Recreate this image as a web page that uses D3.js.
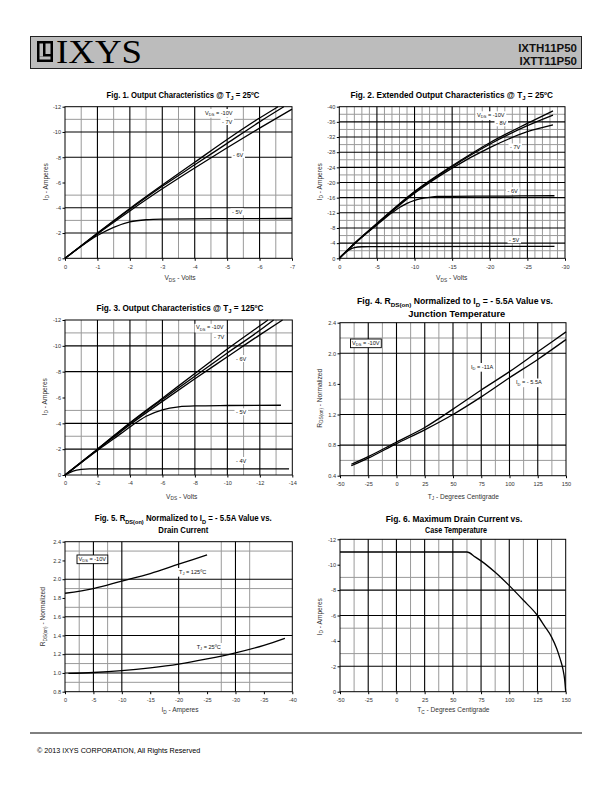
<!DOCTYPE html>
<html><head><meta charset="utf-8">
<script src="https://cdn.jsdelivr.net/npm/d3@7"></script>
<style>body{margin:0;background:#fff} svg{display:block} text{font-family:"Liberation Sans",Arial,sans-serif}</style>
</head><body><svg id="c" width="612" height="792"></svg>
<script>
// ---------------- DATA ----------------
// Fig 1: Output characteristics @ 25C  [VDS, ID]
const fig1XTicks = [0,-1,-2,-3,-4,-5,-6,-7];
const fig1YTicks = [0,-2,-4,-6,-8,-10,-12];
const fig1_10V = [[0,0],[-1,-2.0],[-2,-3.95],[-3,-5.8],[-4,-7.6],[-5,-9.4],[-6,-11.1],[-6.57,-12]];
const fig1_7V  = [[0,0],[-1,-1.97],[-2,-3.88],[-3,-5.7],[-4,-7.4],[-5,-9.1],[-6,-10.8],[-6.75,-12]];
const fig1_6V  = [[0,0],[-1,-1.93],[-2,-3.75],[-3,-5.5],[-4,-7.15],[-5,-8.75],[-6,-10.3],[-7,-11.8]];
const fig1_5V  = [[0,0],[-0.5,-0.95],[-1,-1.8],[-1.5,-2.45],[-2,-2.88],[-2.5,-3.05],[-3,-3.1],[-4,-3.12],[-5,-3.14],[-7,-3.15]];
// Fig 2: Extended output characteristics @ 25C
const fig2XTicks = [0,-5,-10,-15,-20,-25,-30];
const fig2YTicks = [0,-4,-8,-12,-16,-20,-24,-28,-32,-36,-40];
const fig2_10V = [[0,0],[-2,-3.9],[-5,-9.2],[-10,-17.6],[-15,-24.4],[-20,-30.5],[-25,-35.6],[-28.4,-38.9]];
const fig2_8V  = [[0,0],[-2,-3.9],[-5,-9.1],[-10,-17.5],[-15,-24.2],[-20,-30.1],[-25,-35.0],[-28.4,-37.8]];
const fig2_7V  = [[0,0],[-2,-3.85],[-5,-9.0],[-10,-17.2],[-15,-23.8],[-20,-29.2],[-25,-33.4],[-28.4,-35.2]];
const fig2_6V  = [[0,0],[-2,-3.8],[-5,-8.8],[-7,-12.0],[-8,-13.4],[-9,-14.5],[-10,-15.3],[-11,-15.8],[-12,-16.1],[-13,-16.3],[-15,-16.35],[-20,-16.4],[-28.6,-16.5]];
const fig2_5V  = [[0,0],[-0.5,-1.0],[-1,-1.8],[-1.5,-2.4],[-2,-2.8],[-3,-3.05],[-4,-3.1],[-28.6,-3.15]];
// Fig 3: Output characteristics @ 125C
const fig3XTicks = [0,-2,-4,-6,-8,-10,-12,-14];
const fig3YTicks = [0,-2,-4,-6,-8,-10,-12];
const fig3_10V = [[0,0],[-2,-2.0],[-4,-4.05],[-6,-5.95],[-8,-7.85],[-10,-9.75],[-12,-11.55],[-12.5,-12]];
const fig3_7V  = [[0,0],[-2,-2.0],[-4,-4.0],[-6,-5.85],[-8,-7.65],[-10,-9.45],[-12,-11.2],[-12.85,-12]];
const fig3_6V  = [[0,0],[-2,-1.95],[-4,-3.9],[-6,-5.7],[-8,-7.45],[-10,-9.15],[-12,-10.85],[-13.4,-12]];
const fig3_5V  = [[0,0],[-1,-0.95],[-2,-1.9],[-3,-2.8],[-4,-3.72],[-5,-4.55],[-6,-5.05],[-7,-5.28],[-8,-5.35],[-10,-5.38],[-13.3,-5.4]];
const fig3_4V  = [[0,0],[-0.5,-0.3],[-1,-0.43],[-1.5,-0.47],[-5,-0.48],[-13.8,-0.48]];
// Fig 4: RDS(on) vs junction temperature
const fig4XTicks = [-50,-25,0,25,50,75,100,125,150];
const fig4YTicks = [0.4,0.8,1.2,1.6,2.0,2.4];
const fig4_11A  = [[-40,0.55],[-25,0.65],[0,0.84],[25,1.03],[50,1.27],[75,1.52],[100,1.76],[125,2.02],[150,2.28]];
const fig4_55A  = [[-40,0.53],[-25,0.63],[0,0.82],[25,1.0],[50,1.2],[75,1.43],[100,1.68],[125,1.92],[150,2.18]];
// Fig 5: RDS(on) vs drain current
const fig5XTicks = [0,-5,-10,-15,-20,-25,-30,-35,-40];
const fig5YTicks = [0.8,1.0,1.2,1.4,1.6,1.8,2.0,2.2,2.4];
const fig5_125C = [[0,1.85],[-5,1.90],[-10,1.98],[-15,2.06],[-20,2.16],[-25,2.26]];
const fig5_25C  = [[-0.6,0.995],[-5,1.005],[-10,1.025],[-15,1.055],[-20,1.095],[-25,1.15],[-30,1.215],[-35,1.295],[-38.7,1.37]];
// Fig 6: Max drain current vs case temperature
const fig6XTicks = [-50,-25,0,25,50,75,100,125,150];
const fig6YTicks = [0,-2,-4,-6,-8,-10,-12];
const fig6_ID = [[-50,-11],[62.5,-11],[70,-10.6],[75,-10.3],[87.5,-9.4],[100,-8.35],[112.5,-7.2],[125,-6.0],[131,-5.2],[137.5,-4.3],[142,-3.4],[145,-2.6],[147.5,-1.8],[149,-1.0],[150,0]];

// ---------------- DRAWING ----------------
const svg = d3.select('#c');
const FONT = '"Liberation Sans",Arial,sans-serif';

function rich(t, parts, fs){
  let shifted=false;
  parts.forEach(p=>{
    const sub = typeof p !== 'string';
    const s = t.append('tspan').text(sub? p.s : p);
    if(sub){ s.attr('font-size', fs*0.72).attr('dy', fs*0.3); shifted=true; }
    else if(shifted){ s.attr('dy', -fs*0.3); shifted=false; }
  });
}
function fitText(parent, cx, yb, parts, fs, targetW, weight){
  const t = parent.append('text').attr('text-anchor','middle').attr('font-size',fs)
    .attr('font-weight',weight||'bold').attr('fill','#000');
  rich(t, parts, fs);
  const w = t.node().getComputedTextLength();
  const s = targetW ? targetW/w : 1;
  t.attr('transform',`translate(${cx},${yb}) scale(${s},1)`);
  return t;
}
function label(parent, x, y, parts, opt){
  opt = opt||{};
  const fs = 5.6;
  const t = parent.append('text').attr('x',x).attr('y',y).attr('font-size',fs).attr('fill','#111');
  rich(t, parts, fs);
  const b = t.node().getBBox();
  parent.insert('rect', () => t.node())
    .attr('x', b.x-1.5).attr('y', b.y-0.5).attr('width', b.width+3).attr('height', b.height+1)
    .attr('fill','#fff').attr('stroke', opt.border? '#000':'none').attr('stroke-width',0.9);
}
const sub = s => ({s});

function drawChart(c){
  const g = svg.append('g');
  const x = d3.scaleLinear().domain(c.xDomain).range([c.left,c.right]);
  const y = d3.scaleLinear().domain(c.yDomain).range([c.bottom,c.top]);
  const vline = (arr,col,w)=> g.append('g').selectAll('line').data(arr).join('line')
     .attr('x1',d=>x(d)).attr('x2',d=>x(d)).attr('y1',c.top).attr('y2',c.bottom)
     .attr('stroke',col).attr('stroke-width',w);
  const hline = (arr,col,w)=> g.append('g').selectAll('line').data(arr).join('line')
     .attr('y1',d=>y(d)).attr('y2',d=>y(d)).attr('x1',c.left).attr('x2',c.right)
     .attr('stroke',col).attr('stroke-width',w);
  vline(c.vGray,'#9a9a9a',1); hline(c.hGray,'#9a9a9a',1);
  vline(c.vBlack,'#000',1.1); hline(c.hBlack,'#000',1.1);
  g.append('rect').attr('x',c.left).attr('y',c.top).attr('width',c.right-c.left).attr('height',c.bottom-c.top)
    .attr('fill','none').attr('stroke','#000').attr('stroke-width',1);
  const ay = g.append('g').attr('transform',`translate(${c.left},0)`)
    .call(d3.axisLeft(y).tickValues(c.yTicks).tickFormat(c.yFmt).tickSize(2.5).tickPadding(1.5));
  const ax = g.append('g').attr('transform',`translate(0,${c.bottom})`)
    .call(d3.axisBottom(x).tickValues(c.xTicks).tickFormat(c.xFmt).tickSize(2.5).tickPadding(4));
  [ax,ay].forEach(a=>{ a.select('.domain').remove(); a.attr('font-family',FONT).attr('font-size',5.6);
     a.selectAll('text').attr('fill','#333'); a.selectAll('line').attr('stroke','#000'); });
  const line = d3.line().x(d=>x(d[0])).y(d=>y(d[1])).curve(d3.curveMonotoneX);
  g.append('g').selectAll('path').data(c.curves).join('path').attr('d',d=>line(d))
    .attr('fill','none').attr('stroke','#000').attr('stroke-width',1.3);
  c.labels.forEach(l=>label(g,l.x,l.y,l.parts,l));
  c.title.forEach(tl=>fitText(g, tl.cx, tl.y, tl.parts, 8.6, tl.w, 'bold'));
  const xt = g.append('text').attr('x',c.xTitle.cx).attr('y',c.xTitle.y).attr('text-anchor','middle')
    .attr('font-size',6.6).attr('fill','#333');
  rich(xt, c.xTitle.parts, 6.6);
  const yt = g.append('text').attr('transform',`translate(${c.yTitle.x},${c.yTitle.cy}) rotate(-90)`)
    .attr('text-anchor','middle').attr('font-size',6.6).attr('fill','#333');
  rich(yt, c.yTitle.parts, 6.6);
}
const fInt = d=>String(d);
const f1 = d=>d.toFixed(1);
const range = (a,b,s)=>d3.range(a,b+s/2,s);
const ID_T = ['I',sub('D'),' - Amperes'];
const VDS_T = ['V',sub('DS'),' - Volts'];

// Fig 1
drawChart({left:65,right:292,top:106.7,bottom:258.3, xDomain:[0,-7], yDomain:[0,-12],
  xTicks:fig1XTicks, yTicks:fig1YTicks, xFmt:fInt, yFmt:fInt,
  vBlack:[-1,-2,-3,-4,-5,-6], vGray:[-0.5,-1.5,-2.5,-3.5,-4.5,-5.5,-6.5],
  hBlack:[-10,-8,-4,-2], hGray:[-11,-5,-3],
  curves:[fig1_10V,fig1_7V,fig1_6V,fig1_5V],
  labels:[{x:205,y:114.5,parts:['V',sub('DS'),' = -10V']},{x:222,y:123.5,parts:['- 7V']},
          {x:233,y:156.7,parts:['- 6V']},{x:232,y:213.8,parts:['- 5V']}],
  title:[{cx:183,y:97.7,w:153,parts:['Fig. 1. Output Characteristics @ T',sub('J'),' = 25ºC']}],
  xTitle:{cx:180,y:280,parts:VDS_T}, yTitle:{x:47.5,cy:181.7,parts:ID_T}});
// Fig 2
drawChart({left:339.3,right:565,top:106.7,bottom:258.3, xDomain:[0,-30], yDomain:[0,-40],
  xTicks:fig2XTicks, yTicks:fig2YTicks, xFmt:fInt, yFmt:fInt,
  vBlack:[-5,-10,-15,-20,-25], vGray:range(-1,-29,-1).filter(v=>v%5!==0),
  hBlack:[-4,-8,-12,-16,-20,-24,-28,-32,-36], hGray:[-2,-6,-10,-14,-18,-22,-26,-30,-34,-38],
  curves:[fig2_10V,fig2_8V,fig2_7V,fig2_6V,fig2_5V],
  labels:[{x:477,y:116.8,parts:['V',sub('DS'),' = -10V']},{x:496,y:124.8,parts:['- 8V']},
          {x:510,y:149,parts:['- 7V']},{x:507.5,y:192.8,parts:['- 6V']},{x:509,y:241.8,parts:['- 5V']}],
  title:[{cx:451.7,y:97.7,w:203,parts:['Fig. 2. Extended Output Characteristics @ T',sub('J'),' = 25ºC']}],
  xTitle:{cx:451.7,y:280,parts:VDS_T}, yTitle:{x:321.5,cy:181.7,parts:ID_T}});
// Fig 3
drawChart({left:65,right:292.3,top:320,bottom:475, xDomain:[0,-14], yDomain:[0,-12],
  xTicks:fig3XTicks, yTicks:fig3YTicks, xFmt:fInt, yFmt:fInt,
  vBlack:[-2,-4,-6,-8,-10,-12], vGray:[-1,-3,-5,-7,-9,-11,-13],
  hBlack:[-10,-8,-4,-2], hGray:[-11,-5,-3],
  curves:[fig3_10V,fig3_7V,fig3_6V,fig3_5V,fig3_4V],
  labels:[{x:196,y:329.3,parts:['V',sub('DS'),' = -10V']},{x:214,y:338.5,parts:['- 7V']},
          {x:236,y:360.5,parts:['- 6V']},{x:236,y:413.8,parts:['- 5V']},{x:236,y:462.5,parts:['- 4V']}],
  title:[{cx:180,y:310.7,w:167,parts:['Fig. 3. Output Characteristics @ T',sub('J'),' = 125ºC']}],
  xTitle:{cx:181.7,y:498.5,parts:VDS_T}, yTitle:{x:46.5,cy:396.7,parts:ID_T}});
// Fig 4
drawChart({left:340,right:566,top:322.7,bottom:475.7, xDomain:[-50,150], yDomain:[0.4,2.4],
  xTicks:fig4XTicks, yTicks:fig4YTicks, xFmt:fInt, yFmt:f1,
  vBlack:[-25,0,25,50,75,100,125], vGray:[-37.5,-12.5,12.5,37.5,62.5,87.5,112.5,137.5],
  hBlack:[2.0,1.2,0.8], hGray:[2.2,1.4,0.6],
  curves:[fig4_11A,fig4_55A],
  labels:[{x:352,y:344.5,parts:['V',sub('DS'),' = -10V'],border:true},
          {x:471,y:368.5,parts:['I',sub('D'),' = -11A']},{x:516,y:384,parts:['I',sub('D'),' = - 5.5A']}],
  title:[{cx:455,y:304,w:196,parts:['Fig. 4. R',sub('DS(on)'),' Normalized to I',sub('D'),' = - 5.5A Value vs.']},
         {cx:456.7,y:316.7,w:97,parts:['Junction Temperature']}],
  xTitle:{cx:463.3,y:498.5,parts:['T',sub('J'),' - Degrees Centigrade']},
  yTitle:{x:321.5,cy:398.3,parts:['R',sub('DS(on)'),' - Normalized']}});
// Fig 5
drawChart({left:65,right:292.3,top:541.7,bottom:691.7, xDomain:[0,-40], yDomain:[0.8,2.4],
  xTicks:fig5XTicks, yTicks:fig5YTicks, xFmt:fInt, yFmt:f1,
  vBlack:[-5,-10,-20,-30], vGray:[-2.5,-7.5,-27.5,-32.5],
  hBlack:[2.0,1.6,1.4,1.2,1.0], hGray:[2.3,1.9,1.7,1.1,0.9],
  curves:[fig5_125C,fig5_25C],
  labels:[{x:78.5,y:560.5,parts:['V',sub('DS'),' = -10V'],border:true},
          {x:179,y:573.5,parts:['T',sub('J'),' = 125ºC']},{x:196.7,y:648.5,parts:['T',sub('J'),' = 25ºC']}],
  title:[{cx:183.3,y:521,w:177,parts:['Fig. 5. R',sub('DS(on)'),' Normalized to I',sub('D'),' = - 5.5A Value vs.']},
         {cx:183.3,y:532.7,w:50,parts:['Drain Current']}],
  xTitle:{cx:180,y:712,parts:ID_T},
  yTitle:{x:45,cy:616.7,parts:['R',sub('DS(on)'),' - Normalized']}});
// Fig 6
drawChart({left:340,right:565.7,top:539.3,bottom:691.7, xDomain:[-50,150], yDomain:[0,-12],
  xTicks:fig6XTicks, yTicks:fig6YTicks, xFmt:fInt, yFmt:fInt,
  vBlack:[-25,0,25,50,75,100,125], vGray:[-37.5,-12.5,12.5,37.5,62.5,87.5,112.5,137.5],
  hBlack:[-8,-6,-2], hGray:[-9,-5,-3],
  curves:[fig6_ID], labels:[],
  title:[{cx:454,y:521.7,w:137,parts:['Fig. 6. Maximum Drain Current vs.']},
         {cx:456,y:533.3,w:62,parts:['Case Temperature']}],
  xTitle:{cx:453.3,y:712,parts:['T',sub('C'),' - Degrees Centigrade']},
  yTitle:{x:321.5,cy:616.7,parts:ID_T}});

// ---------------- HEADER / FOOTER ----------------
const hd = svg.append('g');
hd.append('rect').attr('x',30.5).attr('y',36.5).attr('width',551).attr('height',32)
  .attr('fill','#bcbcbc').attr('stroke','#222').attr('stroke-width',1);
hd.append('rect').attr('x',37).attr('y',41).attr('width',16).attr('height',21).attr('fill','#000');
hd.append('rect').attr('x',39.5).attr('y',43.5).attr('width',3.5).attr('height',13).attr('fill','#bcbcbc');
hd.append('rect').attr('x',39.5).attr('y',56.5).attr('width',11).attr('height',3).attr('fill','#bcbcbc');
hd.append('rect').attr('x',45.5).attr('y',43.5).attr('width',5).attr('height',10.5).attr('fill','#bcbcbc');
hd.append('text').attr('x',56).attr('y',62.5).style('font-family','"Liberation Serif","DejaVu Serif",serif')
  .attr('font-size',33).attr('textLength',86).attr('lengthAdjust','spacingAndGlyphs').attr('fill','#000').text('IXYS');
hd.append('text').attr('x',577).attr('y',51.5).attr('text-anchor','end').attr('font-weight','bold')
  .attr('font-size',11.5).attr('fill','#111').text('IXTH11P50');
hd.append('text').attr('x',577).attr('y',64.5).attr('text-anchor','end').attr('font-weight','bold')
  .attr('font-size',11.5).attr('fill','#111').text('IXTT11P50');
svg.append('line').attr('x1',30).attr('x2',582).attr('y1',733).attr('y2',733).attr('stroke','#000').attr('stroke-width',1);
svg.append('text').attr('x',37).attr('y',753).attr('font-size',7.2).attr('fill','#000')
  .text('© 2013 IXYS CORPORATION, All Rights Reserved');
</script></body></html>
